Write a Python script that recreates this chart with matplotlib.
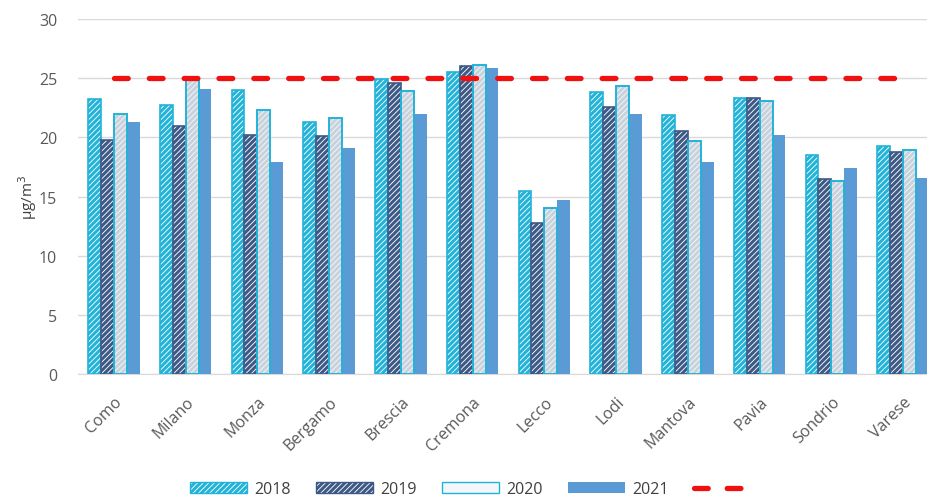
import matplotlib
matplotlib.use('Agg')
import matplotlib.pyplot as plt
from matplotlib.patches import Patch
from matplotlib.lines import Line2D
import numpy as np

# PM10 annual mean by province, 2018-2021
cities = ['Como', 'Milano', 'Monza', 'Bergamo', 'Brescia', 'Cremona',
          'Lecco', 'Lodi', 'Mantova', 'Pavia', 'Sondrio', 'Varese']
v2018 = [23.2, 22.7, 24.0, 21.3, 24.9, 25.5, 15.5, 23.8, 21.9, 23.3, 18.5, 19.3]
v2019 = [19.8, 21.0, 20.2, 20.1, 24.6, 26.0, 12.8, 22.6, 20.5, 23.3, 16.5, 18.8]
v2020 = [22.0, 25.0, 22.3, 21.6, 23.9, 26.1, 14.0, 24.3, 19.7, 23.1, 16.3, 18.9]
v2021 = [21.3, 24.1, 17.9, 19.1, 22.0, 25.9, 14.7, 22.0, 17.9, 20.2, 17.4, 16.6]
limit = 25

plt.rcParams['font.family'] = ['Open Sans', 'DejaVu Sans']
plt.rcParams['hatch.linewidth'] = 2.2

cyan = '#22b3d8'
navy = '#3d5a87'
blue = '#5b9bd5'
red = '#f01010'

fig = plt.figure(figsize=(9.28, 5.02), dpi=100)
ax = fig.add_axes([78 / 928, 127 / 502, 861 / 928, 355 / 502])

x = np.arange(len(cities))
w = 0.18
ax.bar(x - 1.5 * w, v2018, w, color='white', edgecolor=cyan,
       hatch='//////', linewidth=1.2, zorder=3)
ax.bar(x - 0.5 * w, v2019, w, color='white', edgecolor=navy,
       hatch='//////', linewidth=1.2, zorder=3)
# 2020: light gray hatch, cyan outline drawn on top
ax.bar(x + 0.5 * w, v2020, w, color='#f6f8fa', edgecolor='#c8d2dd',
       hatch='//////', linewidth=0, zorder=3)
ax.bar(x + 0.5 * w, v2020, w, color='none', edgecolor=cyan,
       linewidth=1.4, zorder=4)
ax.bar(x + 1.5 * w, v2021, w, color=blue, zorder=3)

ax.plot(x, [limit] * len(x), color=red, lw=3.8, dashes=(2.6, 4.0),
        dash_capstyle='round', zorder=5)

ax.set_xlim(-0.5, len(cities) - 0.5)
ax.set_ylim(0, 30)
ax.set_yticks(range(0, 31, 5))
ax.set_xticks(x)
ax.set_xticklabels(cities, rotation=45, ha='right', rotation_mode='anchor')
ax.tick_params(axis='both', length=0, labelsize=11.5, colors='#595959')
ax.tick_params(axis='x', pad=14)
ax.tick_params(axis='y', pad=15)
ax.grid(axis='y', color='#d9d9d9', lw=1, zorder=0)
for s in ['top', 'right', 'left']:
    ax.spines[s].set_visible(False)
ax.spines['bottom'].set_color('#d9d9d9')
ax.set_ylabel('µg/m$^3$', fontsize=11, color='#404040', labelpad=0)

handles = [
    Patch(facecolor='white', edgecolor=cyan, hatch='//////', label='2018'),
    Patch(facecolor='white', edgecolor=navy, hatch='//////', label='2019'),
    Patch(facecolor='#f4f6f9', edgecolor=cyan, label='2020'),
    Patch(facecolor=blue, label='2021'),
    Line2D([0], [0], color=red, lw=3.8, dashes=(2.6, 3.6),
           dash_capstyle='round', label=' '),
]
fig.legend(handles=handles, loc='center', bbox_to_anchor=(476 / 928, 1 - 490 / 502),
           ncol=5, frameon=False, fontsize=11.5, handlelength=3.55,
           handleheight=0.63, columnspacing=1.6, handletextpad=0.45,
           labelcolor='#404040')

fig.savefig('out.png', dpi=100)
